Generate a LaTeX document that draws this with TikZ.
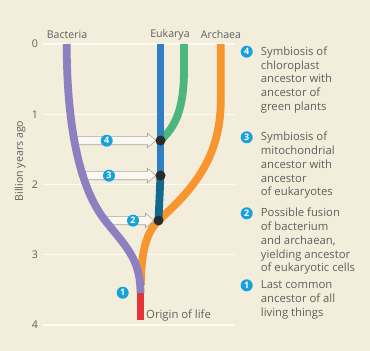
\documentclass[tikz,border=0pt]{standalone}
\usepackage{fontspec}
\setmainfont{Open Sans}
\usetikzlibrary{calc}
\definecolor{bg}{HTML}{F3EEDB}
\definecolor{gridwhite}{HTML}{FCFAF2}
\definecolor{textgray}{HTML}{5E5E5E}
\definecolor{numblue}{HTML}{1BA0DE}
\definecolor{bactpurple}{HTML}{8C80C0}
\definecolor{eukblue}{HTML}{2F7FC4}
\definecolor{eukteal}{HTML}{0F6A8E}
\definecolor{plantgreen}{HTML}{4DB57E}
\definecolor{archorange}{HTML}{F7962E}
\definecolor{origred}{HTML}{E63338}
\definecolor{dotblack}{HTML}{2B2B2E}
\definecolor{arrowgray}{HTML}{A8A6A0}
\definecolor{arrowfill}{HTML}{FAF8F1}
\begin{document}
\begin{tikzpicture}[x=1pt,y=-1pt,
  txt/.style={text=textgray, font=\fontsize{10.6}{13.75}\selectfont, inner sep=0},
  legtxt/.style={text=textgray, font=\fontsize{11.3}{13.75}\selectfont, inner sep=0, anchor=north west, align=left},
  numc/.style={circle, fill=numblue, text=white, inner sep=0, minimum size=12pt, font=\fontsize{9}{9}\selectfont\bfseries},
  dotnode/.style={circle, fill=dotblack, inner sep=0, minimum size=10pt},
  branch/.style={line width=7.8pt},
  gridline/.style={line width=1.2pt, draw=gridwhite},
  harrow/.style={draw=arrowgray, line width=0.6pt, fill=arrowfill, line join=miter}]
\fill[bg] (0,0) rectangle (370,351);
\useasboundingbox (0,0) rectangle (370,351);
% grid
\foreach \i in {0,...,4}{
  \draw[gridline] (43,{44+70.25*\i}) -- (235,{44+70.25*\i});
  \node[txt, anchor=center] (yl\i) at (35,{44+70.25*\i}) {\i};
}
\node[txt, rotate=90] (ylab) at (20,161) {Billion years ago};
% labels
\node[txt] (lbact) at (67,34.5) {Bacteria};
\node[txt] (leuk) at (170,34.5) {Eukarya};
\node[txt] (larch) at (221,34.5) {Archaea};
% nodes (dots)
\coordinate (p4) at (160.5,140.5);
\coordinate (p3) at (160.5,175.5);
\coordinate (p2) at (158.5,220.5);
% branches
\draw[branch, archorange] (220.8,44) -- (220.8,100) .. controls (220.8,160) and (190,192) .. (p2) .. controls (147,232) and (141,250) .. (141,285);
\draw[branch, plantgreen] (184,44) -- (184,70) .. controls (184,110) and (175,127) .. (p4);
\draw[branch, eukblue] (160.5,44) -- (p3);
\draw[branch, eukteal] (p3) -- (p2);
% arrows
\coordinate (a4) at (73,140.5);
\coordinate (a3) at (82,175.5);
\coordinate (a2) at (104,220.5);
\foreach \sa/\ea in {a4/p4,a3/p3,a2/p2}{
  \draw[harrow] let \p1=(\sa), \p2=(\ea) in
    ({\x1},{\y1+4.2pt}) -- ({\x2-13pt},{\y1+4.2pt}) -- ({\x2-13pt},{\y1+7.2pt}) -- ({\x2-4.5pt},{\y1}) -- ({\x2-13pt},{\y1-7.2pt}) -- ({\x2-13pt},{\y1-4.2pt}) -- ({\x1},{\y1-4.2pt}) -- cycle;
}
\draw[branch, bactpurple] (66.7,44) .. controls (66.7,120) and (78,185) .. (104,219) .. controls (125,246) and (140.5,258) .. (140.5,293);
\fill[origred] (137,292.5) rectangle (144,320);
\node[txt, font=\fontsize{11.3}{13.75}\selectfont, anchor=west] (origin) at (146,315.5) {Origin of life};
\node[dotnode] (n4) at (p4) {};
\node[dotnode] (n3) at (p3) {};
\node[dotnode] (n2) at (p2) {};
\node[numc] (c4) at (106.7,140.7) {4};
\node[numc] (c3) at (109,175.7) {3};
\node[numc] (c2) at (133,220.6) {2};
\node[numc] (c1) at (122.7,292.7) {1};
% legend
\node[numc] (k4) at (246.7,51.7) {4};
\node[legtxt] (t4) at (260.7,46.5) {Symbiosis of\\chloroplast\\ancestor with\\ancestor of\\green plants};
\node[numc] (k3) at (246.7,137.3) {3};
\node[legtxt] (t3) at (260.7,132.1) {Symbiosis of\\mitochondrial\\ancestor with\\ancestor\\of eukaryotes};
\node[numc] (k2) at (246.7,213.3) {2};
\node[legtxt] (t2) at (260.7,208.1) {Possible fusion\\of bacterium\\and archaean,\\yielding ancestor\\of eukaryotic cells};
\node[numc] (k1) at (246.7,285.3) {1};
\node[legtxt] (t1) at (260.7,280.6) {Last common\\ancestor of all\\living things};
\end{tikzpicture}
\end{document}
